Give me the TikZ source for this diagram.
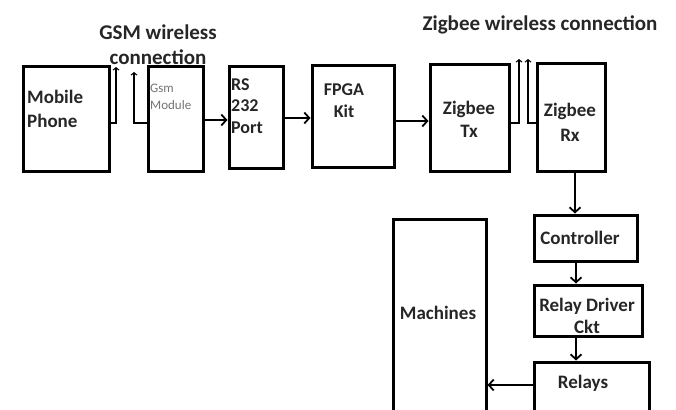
\documentclass[tikz,border=0pt]{standalone}
\usepackage{fontspec}
\setmainfont{Carlito}
\usetikzlibrary{arrows.meta}
\begin{document}
\begin{tikzpicture}[x=1pt,y=-1pt,
  box/.style={draw, line width=3pt, inner sep=0pt, rectangle},
  lbl/.style={font=\fontsize{19}{22}\selectfont\bfseries, inner sep=0pt, text=black!85},
  conn/.style={line width=2.3pt},
  arr/.style={conn, -{Straight Barb[length=5pt,width=11pt,line width=1.8pt]}},
  ant/.style={conn, -{Straight Barb[length=2.5pt,width=6pt,line width=1pt]}},
]
\useasboundingbox (0,0) rectangle (676,409);
\clip (0,0) rectangle (676,409);

% boxes
\node[box, minimum width=86pt, minimum height=104pt] (mob) at (66,119) {};
\node[box, minimum width=55pt, minimum height=104pt] (gsm) at (175.5,119) {};
\node[box, minimum width=54pt, minimum height=101pt] (rs) at (256,117.5) {};
\node[box, minimum width=82pt, minimum height=101pt] (fpga) at (353,116.5) {};
\node[box, minimum width=79pt, minimum height=106pt] (ztx) at (469.5,118) {};
\node[box, minimum width=68pt, minimum height=107pt] (zrx) at (571,117.5) {};
\node[box, minimum width=103pt, minimum height=46pt] (ctrl) at (585.5,238) {};
\node[box, minimum width=108pt, minimum height=51pt] (rdrv) at (588,310.5) {};
\node[box, minimum width=115pt, minimum height=66pt] (rel) at (591.5,395) {};
\node[box, minimum width=93pt, minimum height=206pt] (mach) at (439.5,322) {};

% texts
\node[lbl, anchor=west, align=left, font=\fontsize{19}{24}\selectfont\bfseries] (tmob) at (27,109) {Mobile\\Phone};
\node[lbl, anchor=west, align=left, font=\fontsize{13}{17}\selectfont, text=black!55] (tgsm) at (150,96.5) {Gsm\\Module};
\node[lbl, anchor=west, align=left, font=\fontsize{18}{21.5}\selectfont\bfseries] (trs) at (231,106) {RS\\232\\Port};
\node[lbl, align=center, font=\fontsize{18}{22}\selectfont\bfseries] (tfpga) at (344,101) {FPGA\\Kit};
\node[lbl, align=center, font=\fontsize{19}{23}\selectfont\bfseries] (tztx) at (469,119.5) {Zigbee\\Tx};
\node[lbl, align=center, font=\fontsize{19}{25}\selectfont\bfseries] (tzrx) at (570,122.5) {Zigbee\\Rx};
\node[lbl] (tctrl) at (580,238) {Controller};
\node[lbl, align=center] (trdrv) at (587,316) {Relay Driver\\Ckt};
\node[lbl] (trel) at (583,383) {Relays};
\node[lbl] (tmach) at (438,313) {Machines};
\node[lbl, align=center, font=\fontsize{21}{25}\selectfont\bfseries] (tgsmw) at (158,44.5) {GSM wireless\\connection};
\node[lbl, font=\fontsize{21}{23}\selectfont\bfseries] (tzw) at (540,25) {Zigbee wireless connection};

% GSM antennas
\coordinate (a1b) at (116,123);
\coordinate (a1t) at (116,67);
\coordinate (a2b) at (134,123);
\coordinate (a2t) at (134,72);
\draw[ant] (mob.east |- a1b) -- (a1b) -- (a1t);
\draw[ant] (gsm.west |- a2b) -- (a2b) -- (a2t);

% Zigbee antennas
\coordinate (z1b) at (519,123);
\coordinate (z1t) at (519,59);
\coordinate (z2b) at (528,123);
\coordinate (z2t) at (528,59);
\draw[ant, line width=2.8pt] (ztx.east |- z1b) -- (z1b) -- (z1t);
\draw[ant] (zrx.west |- z2b) -- (z2b) -- (z2t);

% arrows
\draw[arr] (gsm.east |- 0,120) -- (rs.west |- 0,120);
\draw[arr] (rs.east |- 0,118) -- (fpga.west |- 0,118);
\draw[arr] (fpga.east |- 0,121) -- (ztx.west |- 0,121);
\draw[arr] (zrx.south -| 575,0) -- (ctrl.north -| 575,0);
\draw[arr] (ctrl.south -| 576,0) -- (rdrv.north -| 576,0);
\draw[arr] (rdrv.south -| 576,0) -- (rel.north -| 576,0);
\draw[arr] (rel.west |- 0,385) -- (mach.east |- 0,385);
\end{tikzpicture}
\end{document}
